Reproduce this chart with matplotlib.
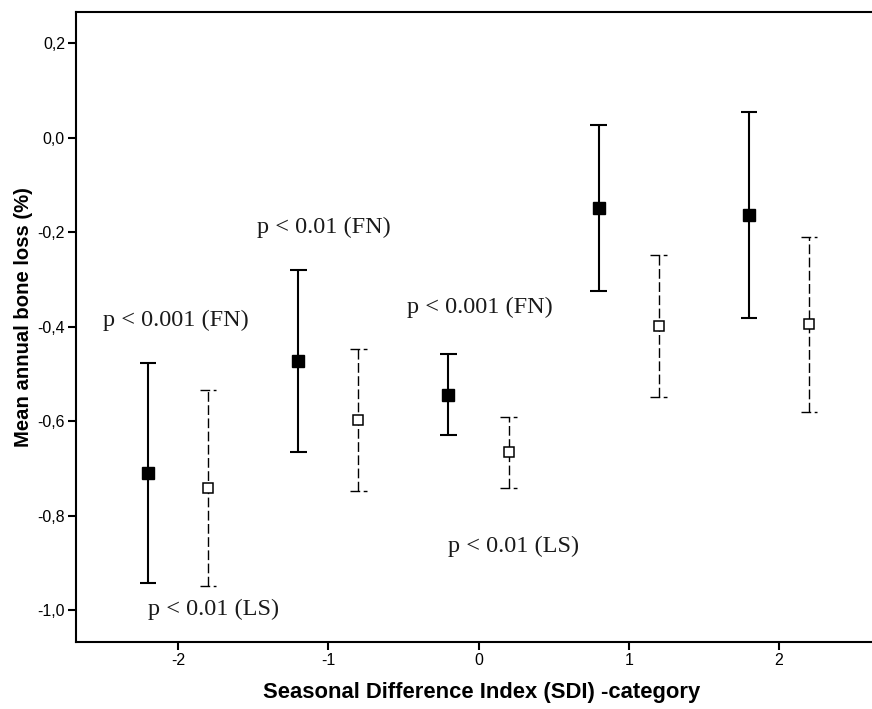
import matplotlib
matplotlib.use("Agg")
import matplotlib.pyplot as plt
from matplotlib.ticker import FuncFormatter

# Data
sdi_fn_x = [-2.2, -1.2, -0.2, 0.8, 1.8]
fn_mean = [-0.710, -0.473, -0.544, -0.148, -0.164]
fn_upper = [-0.477, -0.280, -0.457, 0.028, 0.054]
fn_lower = [-0.942, -0.665, -0.630, -0.324, -0.381]

sdi_ls_x = [-1.8, -0.8, 0.2, 1.2, 2.2]
ls_mean = [-0.741, -0.598, -0.665, -0.399, -0.395]
ls_upper = [-0.534, -0.448, -0.591, -0.248, -0.210]
ls_lower = [-0.948, -0.748, -0.741, -0.549, -0.580]

x_ticks = [-2, -1, 0, 1, 2]
y_ticks = [-1.0, -0.8, -0.6, -0.4, -0.2, 0.0, 0.2]

annotations = [
    ("p < 0.001 (FN)", -2.017, -0.386),
    ("p < 0.01 (FN)", -1.027, -0.189),
    ("p < 0.001 (FN)", 0.010, -0.359),
    ("p < 0.01 (LS)", 0.236, -0.865),
    ("p < 0.01 (LS)", -1.767, -0.998),
]

fig = plt.figure(figsize=(8.72, 7.09), dpi=100)
ax = fig.add_axes([0.0872, 0.0949, 0.9128, 0.888])

cap = 0.055
solid_lw = 1.5
dash_lw = 1.0
dash = (0, (7, 2.5))
# FN: solid error bars, filled squares
ax.vlines(sdi_fn_x, fn_lower, fn_upper, colors="black", linewidth=solid_lw, zorder=2)
ax.hlines(fn_upper, [x - cap for x in sdi_fn_x], [x + cap for x in sdi_fn_x],
          colors="black", linewidth=solid_lw, zorder=2)
ax.hlines(fn_lower, [x - cap for x in sdi_fn_x], [x + cap for x in sdi_fn_x],
          colors="black", linewidth=solid_lw, zorder=2)
ax.plot(sdi_fn_x, fn_mean, linestyle="none", marker="s", markersize=8.5,
        markerfacecolor="black", markeredgecolor="black", zorder=3)

# LS: dashed error bars, open squares
ax.vlines(sdi_ls_x, ls_lower, ls_upper, colors="black", linewidth=dash_lw,
          linestyles=dash, zorder=2)
ax.hlines(ls_upper, [x - cap for x in sdi_ls_x], [x + cap for x in sdi_ls_x],
          colors="black", linewidth=dash_lw, linestyles=dash, zorder=2)
ax.hlines(ls_lower, [x - cap for x in sdi_ls_x], [x + cap for x in sdi_ls_x],
          colors="black", linewidth=dash_lw, linestyles=dash, zorder=2)
ax.plot(sdi_ls_x, ls_mean, linestyle="none", marker="s", markersize=7.2,
        markerfacecolor="white", markeredgecolor="black", markeredgewidth=1.1, zorder=3)

for txt, x, y in annotations:
    ax.text(x, y, txt, ha="center", va="center", fontsize=17.5,
            family=["Liberation Serif", "DejaVu Serif"], color="#1a1a1a")

ax.set_xlim(-2.68, 2.62)
ax.set_ylim(-1.067, 0.266)
ax.set_xticks(x_ticks)
ax.set_yticks(y_ticks)
ax.xaxis.set_major_formatter(FuncFormatter(lambda v, p: f"{v:g}"))
ax.yaxis.set_major_formatter(FuncFormatter(lambda v, p: f"{v:.1f}".replace(".", ",").replace("-0,0", "0,0")))

for s in ax.spines.values():
    s.set_linewidth(1.5)
ax.spines["right"].set_visible(False)
ax.tick_params(direction="out", length=6, width=1.5, labelsize=11.5, pad=2)
for lab in ax.get_xticklabels() + ax.get_yticklabels():
    lab.set_family(["Liberation Sans", "DejaVu Sans"])

ax.set_xlabel("Seasonal Difference Index (SDI) -category", fontsize=15.8,
              fontweight="bold", family=["Liberation Sans", "DejaVu Sans"])
ax.set_ylabel("Mean annual bone loss (%)", fontsize=14.6,
              fontweight="bold", family=["Liberation Sans", "DejaVu Sans"])
ax.xaxis.label.set_va("baseline")
ax.xaxis.set_label_coords(0.509, -0.0894)
ax.yaxis.label.set_va("center")
ax.yaxis.set_label_coords(-0.0666, 0.516)

fig.savefig("out.png", dpi=100)
